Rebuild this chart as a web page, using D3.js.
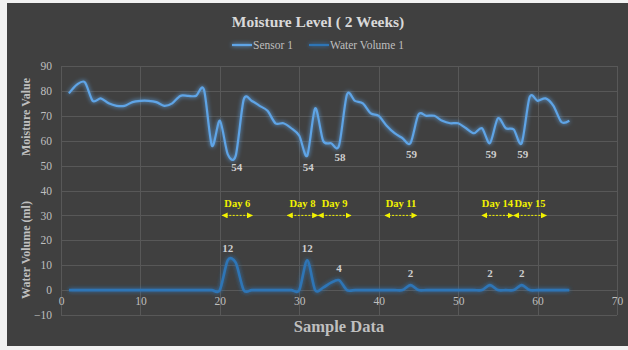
<!DOCTYPE html>
<html>
<head>
<meta charset="utf-8">
<script src="https://cdn.jsdelivr.net/npm/d3@7/dist/d3.min.js"></script>
<style>
  html, body { margin: 0; padding: 0; background: #f2f2f2; }
  svg { display: block; }
  text { font-family: "Liberation Serif", "DejaVu Serif", serif; }
</style>
</head>
<body>
<svg id="chart" width="628" height="350"></svg>
<script>
// Sample index (x) shared by both series
const samples = d3.range(1, 65);

// Soil moisture readings, sensor 1
const sensor1 = [
  79, 82.5, 83.5, 76, 77, 75, 74, 74, 75.5, 76,
  76, 75.5, 74, 75, 78, 78, 78, 80.5, 58, 68,
  54.5, 54, 76.5, 76, 74, 72, 67, 67, 65, 62,
  54, 73, 60, 59, 58, 78.5, 76, 75, 71, 70,
  66, 63, 61, 59, 70.5, 70, 70, 68, 67, 67,
  65, 63, 65, 59, 69, 65, 64.5, 59, 77.5, 76,
  77, 74, 67.5, 68
];

// Water given (ml) per sample
const water1 = [
  0, 0, 0, 0, 0, 0, 0, 0, 0, 0,
  0, 0, 0, 0, 0, 0, 0, 0, 0, 0,
  12, 11, 0, 0, 0, 0, 0, 0, 0, 0,
  12, 0, 1, 3, 4, 0, 0, 0, 0, 0,
  0, 0, 0, 2, 0, 0, 0, 0, 0, 0,
  0, 0, 0, 2, 0, 0, 0, 2, 0, 0,
  0, 0, 0, 0
];

// Labelled minima of the moisture curve and labelled watering peaks
const sensorLabels = [22, 31, 35, 44, 54, 58];
const sensorLabelText = ["54", "54", "58", "59", "59", "59"];
const waterLabels = [21, 31, 35, 44, 54, 58];

// Watering days, as sample ranges
const dayNames = ["Day 6", "Day 8", "Day 9", "Day 11", "Day 14", "Day 15"];
const dayStart = [20.3, 28.5, 32.4, 40.8, 53.0, 57.0];
const dayEnd   = [24.1, 32.3, 36.5, 44.8, 56.9, 61.1];
const dayLevel = 30;

const xTicks = [0, 10, 20, 30, 40, 50, 60, 70];
const yTicks = [-10, 0, 10, 20, 30, 40, 50, 60, 70, 80, 90];

const svg = d3.select("#chart");
const W = 628, H = 350;

// chart panel
svg.append("rect").attr("x", 7).attr("y", 3).attr("width", W - 7).attr("height", 343)
  .attr("fill", "#404040");

const plot = { left: 61, right: 617, top: 66, bottom: 315 };
const x = d3.scaleLinear().domain([0, 70]).range([plot.left, plot.right]);
const y = d3.scaleLinear().domain([-10, 90]).range([plot.bottom, plot.top]);

const defs = svg.append("defs");
// soft glow around the series lines (user-space region so flat lines keep it too)
const glow = defs.append("filter").attr("id", "glow")
  .attr("filterUnits", "userSpaceOnUse")
  .attr("x", 0).attr("y", 0).attr("width", W).attr("height", H);
glow.append("feGaussianBlur").attr("in", "SourceGraphic").attr("stdDeviation", 2.2).attr("result", "b");
const mg = glow.append("feMerge");
mg.append("feMergeNode").attr("in", "b");
mg.append("feMergeNode").attr("in", "SourceGraphic");

const markerColor = "#f2f200";
["arrowEnd", "arrowStart"].forEach((id, i) => {
  defs.append("marker").attr("id", id)
    .attr("viewBox", "0 0 10 10").attr("refX", i === 0 ? 9 : 1).attr("refY", 5)
    .attr("markerWidth", 6).attr("markerHeight", 6).attr("markerUnits", "userSpaceOnUse")
    .attr("orient", "auto")
    .append("path")
    .attr("d", i === 0 ? "M0,0 L10,5 L0,10 Z" : "M10,0 L0,5 L10,10 Z")
    .attr("fill", markerColor);
});

// gridlines
const grid = svg.append("g").attr("stroke", "#585858").attr("stroke-width", 1);
grid.selectAll("line.h").data(yTicks).join("line")
  .attr("x1", plot.left).attr("x2", plot.right)
  .attr("y1", d => Math.round(y(d)) + 0.5).attr("y2", d => Math.round(y(d)) + 0.5);
grid.selectAll("line.v").data(xTicks).join("line")
  .attr("y1", plot.top).attr("y2", plot.bottom)
  .attr("x1", d => Math.round(x(d)) + 0.5).attr("x2", d => Math.round(x(d)) + 0.5);

// y axis labels
const yAxis = d3.axisLeft(y).tickValues(yTicks).tickSize(0).tickPadding(9);
const gy = svg.append("g").attr("transform", `translate(${plot.left},0)`).call(yAxis);
gy.select(".domain").remove();
gy.selectAll("text").attr("fill", "#bfbfbf").attr("font-size", 11.5)
  .attr("font-family", "Liberation Serif, serif");

// x axis labels sit on the zero line
const xAxis = d3.axisBottom(x).tickValues(xTicks).tickSize(0).tickPadding(7);
const gx = svg.append("g").attr("transform", `translate(0,${y(0)})`).call(xAxis);
gx.select(".domain").remove();
gx.selectAll("text").attr("fill", "#bfbfbf").attr("font-size", 11.5)
  .attr("font-family", "Liberation Serif, serif");

// series
const line = d3.line().curve(d3.curveCardinal.tension(0.15))
  .x((d, i) => x(samples[i])).y(d => y(d));

svg.append("path").datum(water1).attr("d", line)
  .attr("fill", "none").attr("stroke", "#2e75b6").attr("stroke-width", 2.6)
  .attr("stroke-linejoin", "round").attr("filter", "url(#glow)");

svg.append("path").datum(sensor1).attr("d", line)
  .attr("fill", "none").attr("stroke", "#5ea4e6").attr("stroke-width", 2.2)
  .attr("stroke-linejoin", "round").attr("filter", "url(#glow)");

// value labels
svg.append("g").selectAll("text").data(sensorLabels).join("text")
  .attr("x", d => x(d) + 1).attr("y", (d, i) => y(sensor1[d - 1]) + 15)
  .attr("text-anchor", "middle").attr("font-size", 11).attr("font-weight", "bold")
  .attr("fill", "#cfcfcf").text((d, i) => sensorLabelText[i]);

svg.append("g").selectAll("text").data(waterLabels).join("text")
  .attr("x", d => x(d)).attr("y", d => y(water1[d - 1]) - 8)
  .attr("text-anchor", "middle").attr("font-size", 11).attr("font-weight", "bold")
  .attr("fill", "#cfcfcf").text(d => water1[d - 1]);

// watering day spans
const days = svg.append("g");
dayNames.forEach((name, i) => {
  days.append("line")
    .attr("x1", x(dayStart[i])).attr("x2", x(dayEnd[i]))
    .attr("y1", y(dayLevel)).attr("y2", y(dayLevel))
    .attr("stroke", markerColor).attr("stroke-width", 1)
    .attr("stroke-dasharray", "2,1.5")
    .attr("marker-start", "url(#arrowStart)").attr("marker-end", "url(#arrowEnd)");
  days.append("text")
    .attr("x", x((dayStart[i] + dayEnd[i]) / 2)).attr("y", y(dayLevel) - 8)
    .attr("text-anchor", "middle").attr("font-size", 10.5).attr("font-weight", "bold")
    .attr("fill", markerColor).text(name);
});

// title
svg.append("text").attr("x", 318).attr("y", 27).attr("text-anchor", "middle")
  .attr("font-size", 15.5).attr("font-weight", "bold").attr("fill", "#d9d9d9")
  .text("Moisture Level ( 2 Weeks)");

// legend
const legend = [
  { name: "Sensor 1", color: "#5ea4e6", x0: 232 },
  { name: "Water Volume 1", color: "#2e75b6", x0: 309 }
];
const lg = svg.append("g");
legend.forEach(l => {
  lg.append("line").attr("x1", l.x0).attr("x2", l.x0 + 20).attr("y1", 45).attr("y2", 45)
    .attr("stroke", l.color).attr("stroke-width", 2.2).attr("filter", "url(#glow)");
  lg.append("text").attr("x", l.x0 + 21).attr("y", 49).attr("font-size", 11.5)
    .attr("fill", "#bfbfbf").text(l.name);
});

// axis titles
svg.append("text").attr("transform", "translate(30,117) rotate(-90)")
  .attr("text-anchor", "middle").attr("font-size", 12).attr("font-weight", "bold")
  .attr("fill", "#bfbfbf").text("Moisture Value");
svg.append("text").attr("transform", "translate(30,250) rotate(-90)")
  .attr("text-anchor", "middle").attr("font-size", 12).attr("font-weight", "bold")
  .attr("fill", "#bfbfbf").text("Water Volume (ml)");
svg.append("text").attr("x", 339).attr("y", 332).attr("text-anchor", "middle")
  .attr("font-size", 16.5).attr("font-weight", "bold").attr("fill", "#bfbfbf")
  .text("Sample Data");
</script>
</body>
</html>
